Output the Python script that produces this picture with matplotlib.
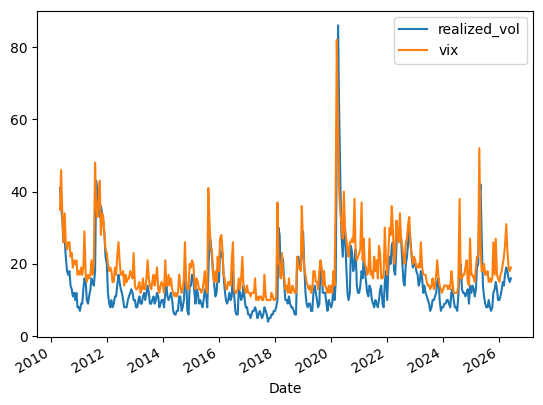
import matplotlib
matplotlib.use("Agg")
import matplotlib.pyplot as plt
import matplotlib.dates as mdates
import pandas as pd

# semi-monthly readings (1st and 15th), May 2010 .. Jun 2026
realized_vol = (
    [41, 36, 32, 26, 27, 22, 18, 17, 18, 14, 13, 11, 12, 10, 12, 8]                                   # 2010 (May-Dec)
    + [8, 7, 9, 9, 13, 16, 15, 10, 9, 11, 13, 16, 15, 14, 18, 43, 40, 35, 33, 36, 34, 32, 28, 22]    # 2011
    + [20, 12, 9, 8, 10, 8, 9, 11, 11, 14, 17, 15, 13, 12, 10, 8, 8, 8, 10, 11, 12, 13, 12, 10]      # 2012
    + [10, 8, 8, 10, 11, 9, 9, 11, 12, 10, 12, 14, 12, 9, 9, 10, 11, 9, 10, 12, 11, 8, 9, 10]        # 2013
    + [10, 8, 12, 14, 11, 10, 11, 12, 10, 7, 6, 6, 7, 7, 11, 11, 7, 8, 10, 16, 15, 7, 6, 14]         # 2014
    + [14, 17, 16, 12, 9, 13, 12, 9, 10, 9, 8, 10, 13, 12, 8, 17, 28, 26, 22, 18, 14, 11, 12, 17]    # 2015
    + [15, 24, 22, 23, 17, 13, 10, 9, 10, 12, 10, 11, 18, 12, 7, 6, 6, 13, 12, 10, 11, 14, 10, 8]    # 2016
    + [8, 6, 6, 5, 6, 7, 7, 8, 7, 5, 6, 7, 6, 5, 6, 8, 7, 6, 4, 5, 5, 6, 6, 7]                      # 2017
    + [7, 8, 10, 30, 28, 17, 22, 21, 14, 10, 10, 9, 11, 9, 8, 8, 7, 6, 6, 20, 22, 20, 19, 22]        # 2018
    + [29, 20, 12, 9, 8, 9, 9, 7, 7, 12, 14, 12, 10, 8, 9, 20, 18, 12, 12, 12, 9, 7, 10, 9]          # 2019
    + [8, 9, 14, 10, 15, 55, 86, 62, 42, 28, 22, 28, 30, 20, 12, 10, 12, 25, 23, 18, 20, 24, 14, 12] # 2020
    + [12, 14, 18, 16, 22, 18, 15, 12, 11, 14, 13, 10, 9, 8, 10, 9, 8, 10, 13, 14, 9, 8, 15, 18]     # 2021
    + [10, 18, 22, 20, 25, 26, 18, 17, 25, 30, 28, 27, 27, 21, 15, 14, 20, 22, 26, 30, 26, 22, 19, 20] # 2022
    + [20, 18, 17, 14, 15, 18, 16, 12, 14, 12, 11, 10, 9, 7, 8, 10, 10, 11, 12, 15, 16, 10, 7, 8]    # 2023
    + [8, 9, 9, 10, 10, 9, 8, 12, 13, 10, 8, 8, 7, 11, 18, 20, 13, 12, 12, 11, 12, 13, 9, 14]        # 2024
    + [12, 14, 13, 11, 13, 19, 20, 38, 42, 28, 14, 11, 9, 8, 8, 10, 8, 7, 8, 12, 13, 15, 13, 10]     # 2025
    + [10, 11, 13, 15, 14, 17, 19, 18, 16, 15, 16]                                                    # 2026 (Jan-Jun)
)

vix = (
    [35, 46, 33, 26, 34, 26, 24, 26, 26, 22, 23, 19, 21, 20, 21, 17]                                   # 2010 (May-Dec)
    + [18, 17, 19, 17, 19, 29, 17, 15, 17, 16, 17, 21, 17, 20, 48, 36, 33, 38, 43, 28, 34, 33, 28, 24] # 2011
    + [23, 20, 18, 19, 18, 15, 15, 19, 17, 22, 26, 21, 17, 17, 18, 14, 17, 15, 16, 16, 18, 17, 16, 23] # 2012
    + [14, 13, 13, 14, 15, 12, 13, 16, 13, 13, 16, 21, 16, 14, 13, 15, 17, 14, 16, 19, 13, 12, 14, 15] # 2013
    + [14, 12, 21, 14, 14, 17, 14, 16, 13, 12, 11, 12, 11, 12, 17, 14, 12, 13, 16, 26, 14, 13, 13, 20] # 2014
    + [19, 21, 20, 15, 13, 16, 15, 13, 13, 12, 13, 15, 18, 13, 12, 41, 31, 24, 24, 17, 15, 18, 15, 22] # 2015
    + [18, 27, 28, 24, 17, 16, 13, 13, 15, 15, 14, 21, 26, 13, 12, 12, 13, 16, 13, 16, 22, 14, 13, 12] # 2016
    + [14, 12, 12, 11, 12, 12, 12, 16, 10, 11, 10, 11, 11, 10, 10, 17, 11, 10, 10, 10, 10, 12, 11, 10] # 2017
    + [10, 11, 37, 20, 20, 16, 23, 17, 16, 13, 14, 12, 16, 12, 12, 14, 13, 12, 12, 22, 19, 19, 18, 36] # 2018
    + [25, 19, 17, 15, 14, 13, 14, 12, 13, 18, 18, 15, 15, 13, 18, 21, 19, 14, 18, 14, 13, 12, 14, 12] # 2019
    + [14, 12, 18, 14, 40, 82, 57, 40, 34, 31, 27, 40, 29, 27, 24, 22, 26, 26, 27, 26, 38, 23, 21, 22] # 2020
    + [23, 24, 37, 21, 27, 20, 19, 17, 18, 27, 17, 18, 16, 22, 18, 21, 16, 25, 23, 16, 16, 17, 30, 21] # 2021
    + [17, 23, 30, 28, 36, 30, 20, 23, 32, 28, 26, 34, 27, 25, 22, 20, 26, 27, 31, 33, 25, 23, 20, 22] # 2022
    + [21, 19, 19, 20, 19, 26, 19, 17, 17, 17, 15, 14, 14, 13, 14, 16, 13, 14, 17, 21, 16, 14, 13, 12] # 2023
    + [13, 14, 14, 14, 13, 14, 13, 18, 15, 12, 12, 12, 12, 14, 38, 16, 16, 17, 17, 19, 21, 15, 14, 27] # 2024
    + [17, 17, 16, 15, 19, 22, 22, 52, 25, 18, 18, 20, 17, 17, 18, 15, 16, 15, 16, 26, 17, 27, 17, 16] # 2025
    + [15, 17, 18, 20, 22, 25, 31, 24, 19, 18, 19]                                                    # 2026 (Jan-Jun)
)

dates = pd.date_range("2010-05-01", periods=len(vix), freq="SMS")

fig, ax = plt.subplots(figsize=(5.43, 4.05), dpi=100)
ax.plot(dates, realized_vol, color="C0", label="realized_vol")
ax.plot(dates, vix, color="C1", label="vix")

ax.xaxis.set_major_locator(mdates.YearLocator(2))
ax.xaxis.set_major_formatter(mdates.DateFormatter("%Y"))
ax.set_xlabel("Date")
ax.legend(loc="upper right")

fig.autofmt_xdate()
fig.subplots_adjust(left=0.069, right=0.9825, bottom=0.169, top=0.974)
fig.savefig("out.png", dpi=100)
plt.close(fig)
